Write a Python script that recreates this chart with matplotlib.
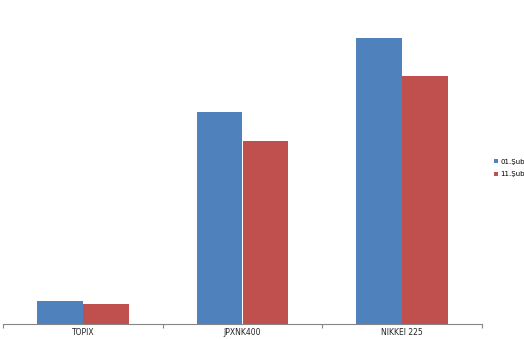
import numpy as np
import matplotlib
matplotlib.use("Agg")
import matplotlib.pyplot as plt

categories = ["TOPIX", "JPXNK400", "NIKKEI 225"]
series_names = ["01.Şub", "11.Şub"]
values_0101 = [23, 212, 286]
values_1102 = [20, 183, 248]
colors = ["#4F81BD", "#C0504D"]

W, H = 524, 339
fig = plt.figure(figsize=(W / 100, H / 100), dpi=100)
ax = fig.add_axes([3 / W, 15 / H, 479 / W, 300 / H])

x = np.arange(len(categories))
bw = 0.2875
ax.bar(x - bw / 2, values_0101, bw, color=colors[0], label=series_names[0])
ax.bar(x + bw / 2, values_1102, bw, color=colors[1], label=series_names[1])

ax.set_xlim(-0.5, len(categories) - 0.5)
ax.set_ylim(0, 300)
ax.set_yticks([])
for s in ["top", "right", "left"]:
    ax.spines[s].set_visible(False)
ax.spines["bottom"].set_color("#868686")
ax.spines["bottom"].set_linewidth(0.8)

ax.set_xticks(x)
ax.set_xticklabels(categories, fontsize=5.5, color="#222222")
ax.set_xticks(np.arange(len(categories) + 1) - 0.5, minor=True)
ax.tick_params(axis="x", which="major", length=0, pad=3)
ax.tick_params(axis="x", which="minor", length=3, color="#868686", width=0.8)

fig.legend(loc="center left", bbox_to_anchor=(491 / W, 1 - 168 / H),
           frameon=False, fontsize=5, handlelength=0.6, handleheight=0.6,
           handletextpad=0.3, labelspacing=1.0, borderaxespad=0)

fig.savefig("out.png", dpi=100)
